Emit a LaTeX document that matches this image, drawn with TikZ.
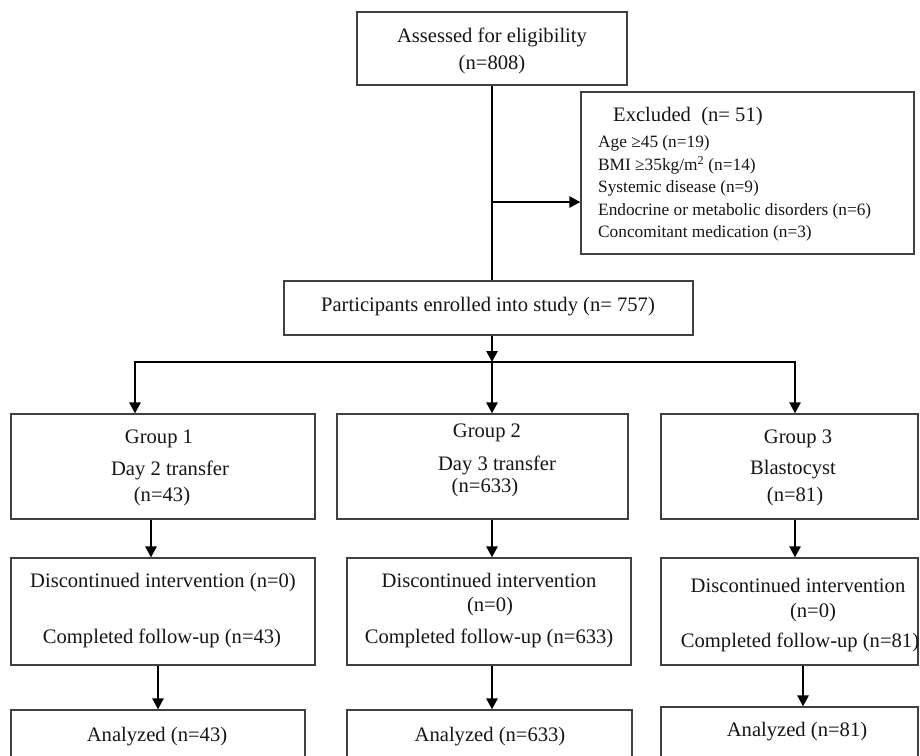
\documentclass[tikz,border=0pt]{standalone}
\usepackage{fontspec}
\setmainfont{Liberation Serif}
\usetikzlibrary{arrows.meta}
\definecolor{boxgray}{HTML}{404040}
\definecolor{txtcol}{HTML}{151515}
\begin{document}
\begin{tikzpicture}[x=1pt,y=-1pt,
 box/.style={draw=boxgray,line width=1.2pt,inner sep=0pt,rectangle},
 txt/.style={inner sep=0pt,font=\fontsize{20.6}{24}\selectfont,text=txtcol},
 small/.style={inner sep=0pt,anchor=west,font=\fontsize{17.3}{20}\selectfont,text=txtcol},
 arr/.style={line width=2.6pt,-{Triangle[length=11pt,width=11pt]}},
 ln/.style={line width=2.6pt,line cap=rect}]
\useasboundingbox (0,0) rectangle (920,755);

% boxes
\node[box,minimum width=270pt,minimum height=73pt] (top) at (492,48.5) {};
\node[box,minimum width=333pt,minimum height=162pt] (ex) at (747.5,173) {};
\node[box,minimum width=409pt,minimum height=54pt] (enr) at (488.5,308) {};
\node[box,minimum width=304pt,minimum height=105pt] (g1) at (163,466.5) {};
\node[box,minimum width=291pt,minimum height=105pt] (g2) at (482.5,466.5) {};
\node[box,minimum width=257pt,minimum height=105pt] (g3) at (789.5,466.5) {};
\node[box,minimum width=304pt,minimum height=107pt] (d1) at (163,611.5) {};
\node[box,minimum width=284pt,minimum height=107pt] (d2) at (489,611.5) {};
\node[box,minimum width=257pt,minimum height=107pt] (d3) at (789.5,611.5) {};
\node[box,minimum width=294pt,minimum height=60pt] (a1) at (158,740) {};
\node[box,minimum width=285pt,minimum height=60pt] (a2) at (489.5,740) {};
\node[box,minimum width=257pt,minimum height=63pt] (a3) at (789.5,738.5) {};

% texts
\node[txt] (t1) at (492,37) {Assessed for eligibility};
\node[txt] (t2) at (492,65) {(n=808)};
\node[txt,anchor=west] (x0) at (613,117) {Excluded\ \ (n= 51)};
\node[small] (x1) at (598,143) {Age ≥45 (n=19)};
\node[small] (x2) at (598,165) {BMI ≥35kg/m\textsuperscript{2} (n=14)};
\node[small] (x3) at (598,188) {Systemic disease (n=9)};
\node[small] (x4) at (598,211) {Endocrine or metabolic disorders (n=6)};
\node[small] (x5) at (598,233) {Concomitant medication (n=3)};
\node[txt] (en) at (488,307) {Participants enrolled into study (n= 757)};

\node[txt] (g1a) at (159,439) {Group 1};
\node[txt] (g1b) at (170,470) {Day 2 transfer};
\node[txt] (g1c) at (162,497) {(n=43)};
\node[txt] (g2a) at (487,433) {Group 2};
\node[txt] (g2b) at (497,465) {Day 3 transfer};
\node[txt] (g2c) at (485,488) {(n=633)};
\node[txt] (g3a) at (798,439) {Group 3};
\node[txt] (g3b) at (793,470) {Blastocyst};
\node[txt] (g3c) at (795,497) {(n=81)};

\node[txt] (d1a) at (163,583) {Discontinued intervention (n=0)};
\node[txt] (d1b) at (162,638) {Completed follow-up (n=43)};
\node[txt] (d2a) at (489,580) {Discontinued intervention};
\node[txt] (d2b) at (490,607) {(n=0)};
\node[txt] (d2c) at (489,638) {Completed follow-up (n=633)};
\node[txt] (d3a) at (798,585) {Discontinued intervention};
\node[txt] (d3b) at (813,613) {(n=0)};
\node[txt] (d3c) at (800,642) {Completed follow-up (n=81)};

\node[txt] (a1t) at (157,737) {Analyzed (n=43)};
\node[txt] (a2t) at (490,737) {Analyzed (n=633)};
\node[txt] (a3t) at (797,732) {Analyzed (n=81)};

% connectors
\draw[line width=2.6pt] (top.south) -- (top.south |- enr.north);
\coordinate (j) at (492,202);
\draw[arr] (j) -- (j -| ex.west);
\coordinate (hb) at (492,362);
\coordinate (hl) at (135,362);
\coordinate (hr) at (795,362);
\draw[arr] (hb |- enr.south) -- (hb);
\draw[ln] (hl) -- (hr);
\draw[arr] (hl) -- (hl |- g1.north);
\draw[arr] (hb) -- (hb |- g2.north);
\draw[arr] (hr) -- (hr |- g3.north);
\coordinate (c1) at (151,0);
\coordinate (c2) at (492,0);
\coordinate (c3) at (795,0);
\draw[arr] (c1 |- g1.south) -- (c1 |- d1.north);
\draw[arr] (c2 |- g2.south) -- (c2 |- d2.north);
\draw[arr] (c3 |- g3.south) -- (c3 |- d3.north);
\coordinate (e1) at (158,0);
\coordinate (e2) at (492,0);
\coordinate (e3) at (803,0);
\draw[arr] (e1 |- d1.south) -- (e1 |- a1.north);
\draw[arr] (e2 |- d2.south) -- (e2 |- a2.north);
\draw[arr] (e3 |- d3.south) -- (e3 |- a3.north);
\end{tikzpicture}
\end{document}
